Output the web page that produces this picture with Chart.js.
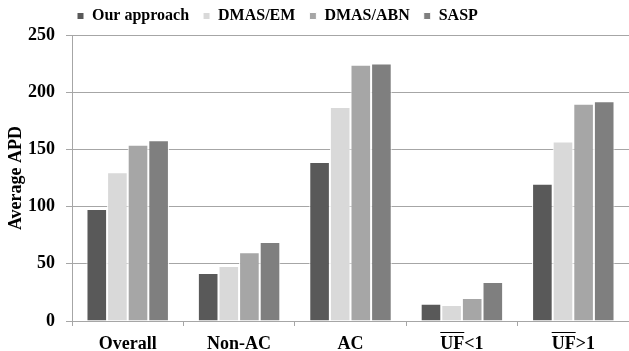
<!DOCTYPE html>
<html>
<head>
<meta charset="utf-8">
<script src="https://cdn.jsdelivr.net/npm/chart.js@4/dist/chart.umd.min.js"></script>
<style>
	body { margin:0; padding:0; background:#fff; }
	#wrap { width:629px; height:351px; }
</style>
</head>
<body>
<div id="wrap"><canvas id="c1" width="629" height="351"></canvas></div>
<script>
//////////////////////////////////////
///// data //////
var categories = ['Overall', 'Non-AC', 'AC', 'UF<1', 'UF>1'];
var seriesNames = ['Our approach', 'DMAS/EM', 'DMAS/ABN', 'SASP'];
var ourApproach = [98, 42, 139, 15, 120];
var dmasEm      = [130, 48, 187, 14, 157];
var dmasAbn     = [154, 60, 224, 20, 190];
var sasp        = [158, 69, 225, 34, 192];
var yTicks      = [0, 50, 100, 150, 200, 250];
var colors      = ['#595959', '#d9d9d9', '#a6a6a6', '#7f7f7f'];
/////////////////////////////////////

var FONT = "'Liberation Serif', 'Times New Roman', serif";
var gridGray = '#a6a6a6';
var LEGEND_PAD = 14;

//builds one bar dataset
function bars(i, values){
	return {
		label: seriesNames[i],
		data: values,
		backgroundColor: colors[i],
		borderColor: '#ffffff',
		borderWidth: 1,
		borderSkipped: 'start',
		categoryPercentage: 0.74,
		barPercentage: 1.0
	};
}

//draws the bar over "UF" in the last two labels
var overlinePlugin = {
	id: 'overline',
	afterDraw: function(chart){
		var xs = chart.scales.x;
		var ctx = chart.ctx;
		ctx.save();
		ctx.font = 'bold 18px ' + FONT;
		ctx.strokeStyle = '#000';
		ctx.lineWidth = 1;
		for (var i = 0; i < categories.length; i++){
			var lbl = categories[i];
			if (lbl.indexOf('UF') != 0)
				continue;
			var full = ctx.measureText(lbl).width;
			var uf = ctx.measureText('UF').width;
			var x0 = xs.getPixelForTick(i) - full / 2;
			ctx.beginPath();
			ctx.moveTo(x0, 332.5);
			ctx.lineTo(x0 + uf, 332.5);
			ctx.stroke();
		}
		ctx.restore();
	}
};

//moves the legend so it sits where the original one does
var legendShift = {
	id: 'legendShift',
	afterLayout: function(chart){
		var lg = chart.legend;
		var w = lg.right - lg.left;
		var h = lg.bottom - lg.top;
		lg.left = 77 - LEGEND_PAD;
		lg.right = lg.left + w;
		lg.top = lg.top - 6;
		lg.bottom = lg.top + h;
	}
};

function drawChart(){
	var el = document.getElementById('c1');
	if (el == null)
		return;

	new Chart(el, {
		type: 'bar',
		data: {
			labels: categories,
			datasets: [bars(0, ourApproach), bars(1, dmasEm), bars(2, dmasAbn), bars(3, sasp)]
		},
		options: {
			responsive: false,
			animation: false,
			devicePixelRatio: 1,
			layout: { padding: { left: 0, right: -4, top: 0, bottom: 0 } },
			plugins: {
				tooltip: { enabled: false },
				legend: {
					position: 'top',
					align: 'start',
					maxHeight: 35,
					labels: {
						boxWidth: 7,
						boxHeight: 7,
						padding: LEGEND_PAD,
						color: '#000',
						font: { family: FONT, size: 16, weight: 'bold' }
					}
				}
			},
			scales: {
				x: {
					grid: { display: true, drawOnChartArea: false, offset: true, color: gridGray, tickLength: 5 },
					border: { color: gridGray },
					ticks: { color: '#000', padding: 8, font: { family: FONT, size: 18, weight: 'bold' } },
					afterFit: function(s){ s.height = 30; }
				},
				y: {
					min: 0,
					max: 250,
					afterBuildTicks: function(s){ s.ticks = yTicks.map(function(v){ return {value: v}; }); },
					grid: { color: gridGray, tickLength: 6 },
					border: { color: gridGray },
					ticks: { color: '#000', padding: 11, font: { family: FONT, size: 18, weight: 'bold' } },
					title: {
						display: true,
						text: 'Average APD',
						color: '#000',
						padding: { top: 6, bottom: 0 },
						font: { family: FONT, size: 18, weight: 'bold' }
					},
					afterFit: function(s){ s.width = 72; }
				}
			}
		},
		plugins: [overlinePlugin, legendShift]
	});
}

drawChart();
</script>
</body>
</html>
